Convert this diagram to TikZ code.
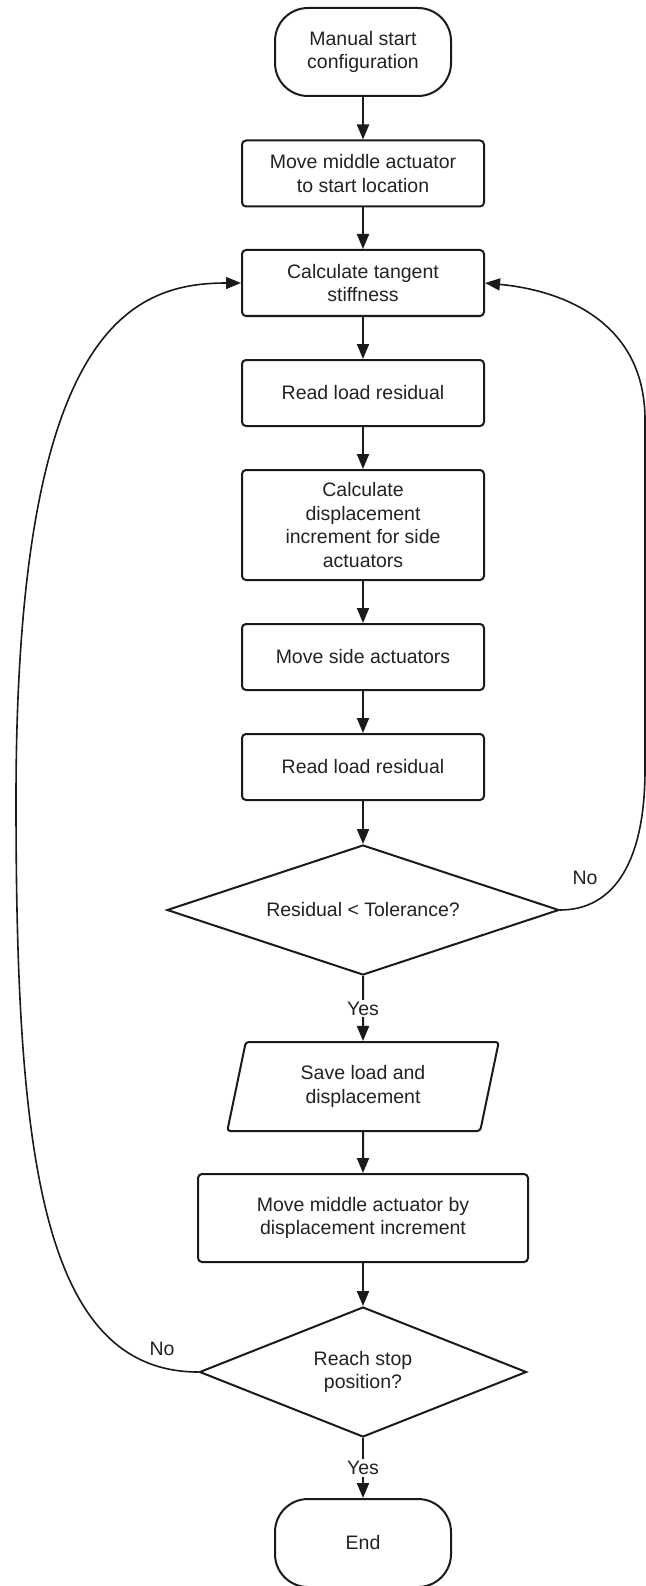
\documentclass[tikz,border=0pt]{standalone}
\usepackage{fontspec}
\setmainfont{Liberation Sans}
\usepackage{tikz}
\usetikzlibrary{shapes.geometric, arrows.meta, positioning}

\definecolor{inkline}{HTML}{1A1A1A}
\definecolor{inktext}{HTML}{222222}

\begin{document}
\begin{tikzpicture}[
  x=1pt, y=-1pt,
  every node/.style={font=\fontsize{19.5}{23.5}\selectfont, text=inktext, align=center},
  term/.style={rectangle, draw=inkline, line width=2pt, rounded corners=33pt, minimum width=176pt, minimum height=88pt, inner sep=0pt},
  proc/.style={rectangle, draw=inkline, line width=2pt, rounded corners=4pt, minimum width=242pt, minimum height=66pt, inner sep=0pt},
  decide/.style={diamond, draw=inkline, line width=2pt, inner sep=0pt},
  io/.style={trapezium, trapezium left angle=76.7, trapezium right angle=103.3, trapezium stretches=true, draw=inkline, line width=2pt, rounded corners=3pt, minimum width=272pt, minimum height=89pt, inner sep=0pt},
  lbl/.style={fill=white, inner sep=2pt},
  fwd/.style={-{Triangle[length=15pt, width=12pt]}, line width=2pt, draw=inkline},
  back/.style={-{Triangle[length=15pt, width=12pt]}, line width=1.6pt, draw=inkline}
]
\useasboundingbox (0,0) rectangle (645,1586);

\node[term]   (start)  at (363,52)     {Manual start\\configuration};
\node[proc]   (move)   at (363,173.5)  {Move middle actuator\\to start location};
\node[proc]   (stiff)  at (363,283)    {Calculate tangent\\stiffness};
\node[proc]   (read1)  at (363,393)    {Read load residual};
\node[proc, minimum height=110pt] (incr) at (363,525) {Calculate\\displacement\\increment for side\\actuators};
\node[proc]   (side)   at (363,657)    {Move side actuators};
\node[proc]   (read2)  at (363,767)    {Read load residual};
\node[decide, aspect=3, minimum width=392pt, minimum height=130pt] (tol) at (363,910) {Residual < Tolerance?};
\node[io]     (save)   at (363,1086.5) {Save load and\\displacement};
\node[proc, minimum width=330pt, minimum height=88pt] (inc) at (363,1218) {Move middle actuator by\\displacement increment};
\node[decide, aspect=2.5, minimum width=327pt, minimum height=130pt] (stop) at (363,1372) {Reach stop\\position?};
\node[term]   (finish) at (363,1543)   {End};

% Branch labels
\node[lbl] (notol)  at (585,878)  {No};
\node[lbl] (nostop) at (162,1349) {No};

% Main flow
\draw[fwd] (start) -- (move);
\draw[fwd] (move)  -- (stiff);
\draw[fwd] (stiff) -- (read1);
\draw[fwd] (read1) -- (incr);
\draw[fwd] (incr)  -- (side);
\draw[fwd] (side)  -- (read2);
\draw[fwd] (read2) -- (tol);
\draw[fwd] (tol)   -- node[lbl] {Yes} (save);
\draw[fwd] (save)  -- (inc);
\draw[fwd] (inc)   -- (stop);
\draw[fwd] (stop)  -- node[lbl] {Yes} (finish);

% Loops back to the stiffness step
\draw[back] (tol.east) .. controls (615,910) and (645,860) .. (645,770) -- (645,420) .. controls (645,320) and (560,290) .. (stiff.east);
\draw[back] (stop.west) .. controls (40,1372) and (16,1150) .. (16,800) .. controls (16,330) and (130,283) .. (stiff.west);

\end{tikzpicture}
\end{document}
